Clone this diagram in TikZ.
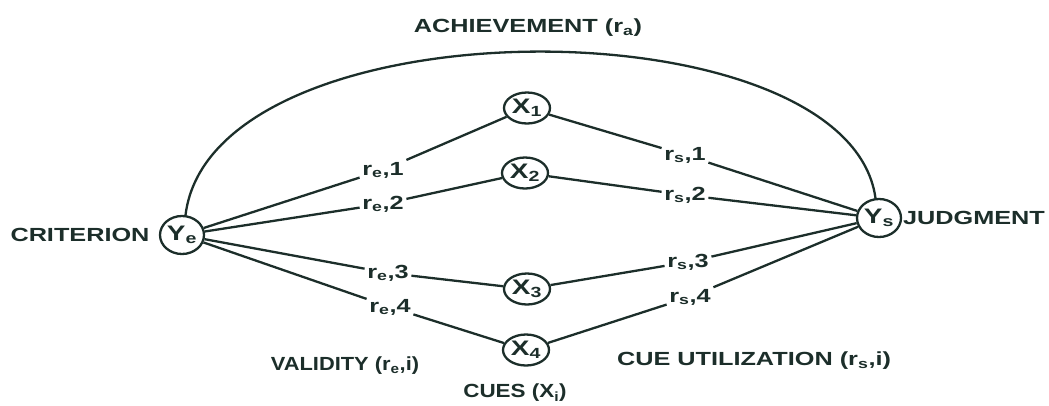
\documentclass[tikz,border=0pt]{standalone}
\usepackage{fontspec}
\setmainfont{Liberation Sans}
\usetikzlibrary{shapes.geometric}
\definecolor{ink}{RGB}{28,46,42}
\newcommand{\wt}[1]{\scalebox{1.33}[1]{#1}}
\newcommand{\sbs}[1]{\textsubscript{#1}}
\begin{document}
\begin{tikzpicture}[x=1pt,y=-1pt,
  txt/.style={inner sep=0pt, text=ink, font=\bfseries\fontsize{19}{19}\selectfont},
  lab/.style={inner sep=2.5pt, text=ink, font=\bfseries\fontsize{19}{19}\selectfont},
  cue/.style={ellipse, draw=ink, line width=2.3pt, minimum width=46pt, minimum height=31pt,
              inner sep=0pt, text=ink, font=\bfseries\fontsize{21}{21}\selectfont},
  crit/.style={cue, minimum width=44pt, minimum height=38pt},
  conn/.style={draw=ink, line width=2.3pt}]
\useasboundingbox (0,0) rectangle (1049,405);
% main nodes
\node[crit] (Ye) at (182,235) {\wt{Y\sbs{e}}};
\node[crit] (Ys) at (879,218) {\wt{Y\sbs{s}}};
\node[cue] (X1) at (527,108) {\wt{X\sbs{1}}};
\node[cue] (X2) at (525,173) {\wt{X\sbs{2}}};
\node[cue] (X3) at (527,289) {\wt{X\sbs{3}}};
\node[cue] (X4) at (526,350) {\wt{X\sbs{4}}};
% texts
\node[txt] (ach) at (528,28) {\wt{ACHIEVEMENT (r\sbs{a})}};
\node[txt] (crt) at (80,235) {\wt{CRITERION}};
\node[txt] (jdg) at (974,218) {\wt{JUDGMENT}};
\node[txt] (val) at (345,366) {\scalebox{1.15}[1]{VALIDITY (r\sbs{e},i)}};
\node[txt] (cues) at (515,393) {\scalebox{1.18}[1]{CUES (X\sbs{i})}};
\node[txt] (util) at (754,361) {\wt{CUE UTILIZATION (r\sbs{s},i)}};
% labels
\node[lab] (le1) at (383,170) {\wt{r\sbs{e},1}};
\node[lab] (le2) at (383,204) {\wt{r\sbs{e},2}};
\node[lab] (le3) at (388,273) {\wt{r\sbs{e},3}};
\node[lab] (le4) at (390,307) {\wt{r\sbs{e},4}};
\node[lab] (ls1) at (685,155) {\wt{r\sbs{s},1}};
\node[lab] (ls2) at (685,195) {\wt{r\sbs{s},2}};
\node[lab] (ls3) at (688,262) {\wt{r\sbs{s},3}};
\node[lab] (ls4) at (690,297) {\wt{r\sbs{s},4}};
% connectors
\foreach \i in {1,2,3,4}{
  \draw[conn] (Ye) -- (le\i);
  \draw[conn] (le\i) -- (X\i);
  \draw[conn] (X\i) -- (ls\i);
  \draw[conn] (ls\i) -- (Ys);
}
\draw[conn] (Ye.80) .. controls (212,0) and (848,0) .. (Ys.100);
\end{tikzpicture}
\end{document}
